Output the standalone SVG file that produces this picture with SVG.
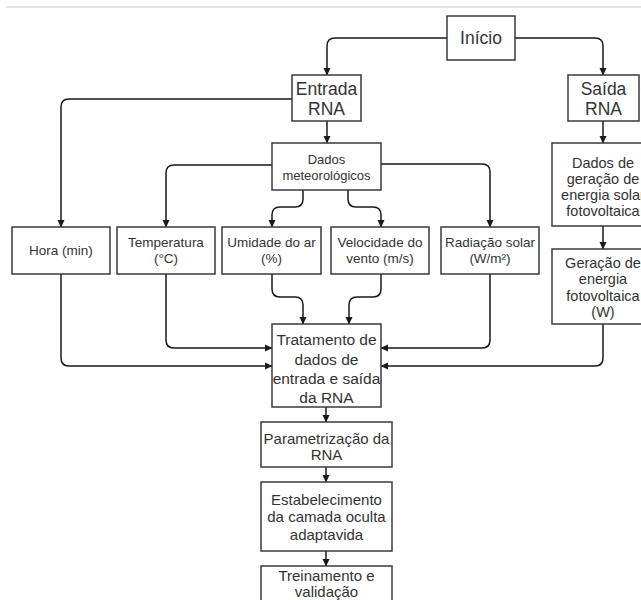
<svg xmlns="http://www.w3.org/2000/svg" width="641" height="600" viewBox="0 0 641 600">
<defs>
<marker id="ah" markerWidth="8" markerHeight="8" refX="7" refY="4" orient="auto" markerUnits="userSpaceOnUse">
<path d="M0,0.5 L7.5,4 L0,7.5 Z" fill="#1a1a1a"/>
</marker>
<style>
.box{fill:#fff;stroke:#3a3a3a;stroke-width:1.5}
.t{font-family:"Liberation Sans",Arial,sans-serif;fill:#333;text-anchor:middle}
.s13{font-size:13.5px}
.s14{font-size:14.5px}
.s15{font-size:15px}
.s17{font-size:17.5px}
.c{fill:none;stroke:#1a1a1a;stroke-width:1.5;marker-end:url(#ah)}
</style>
</defs>
<rect width="641" height="600" fill="#fff"/>
<line x1="6" y1="7" x2="641" y2="7" stroke="#dcdcdc" stroke-width="1.5"/>
<g id="connectors">
<path class="c" d="M447,38 H335 Q327,38 327,46 V75"/>
<path class="c" d="M515,38 H595 Q603,38 603,46 V75"/>
<path class="c" d="M292,99 H69 Q61,99 61,107 V227"/>
<path class="c" d="M327,121 V143"/>
<path class="c" d="M603,121 V143"/>
<path class="c" d="M272,165 H174 Q166,165 166,173 V227"/>
<path class="c" d="M303,190 V199 Q303,207 295,207 H280 Q272,207 272,215 V227"/>
<path class="c" d="M348,190 V199 Q348,207 356,207 H373 Q381,207 381,215 V227"/>
<path class="c" d="M381,164 H482 Q490,164 490,172 V227"/>
<path class="c" d="M603,226 V249"/>
<path class="c" d="M61,274 V358 Q61,366 69,366 H272"/>
<path class="c" d="M166,274 V340 Q166,348 174,348 H272"/>
<path class="c" d="M272,274 V289 Q272,297 280,297 H295 Q303,297 303,305 V324"/>
<path class="c" d="M381,274 V289 Q381,297 373,297 H357 Q349,297 349,305 V324"/>
<path class="c" d="M490,274 V340 Q490,348 482,348 H381"/>
<path class="c" d="M603,324 V358 Q603,366 595,366 H381"/>
<path class="c" d="M326,407 V422"/>
<path class="c" d="M326,467 V482"/>
<path class="c" d="M326,551 V566"/>
</g>
<g id="inicio"><rect class="box" x="447" y="16" width="68" height="44"/><text class="t s17" x="481" y="44">Início</text></g>
<g id="entrada"><rect class="box" x="292" y="75" width="69" height="46"/><text class="t s17" x="326.5" y="94.5">Entrada</text><text class="t s17" x="326.5" y="114.5">RNA</text></g>
<g id="saida"><rect class="box" x="568" y="75" width="71" height="46"/><text class="t s17" x="603.5" y="94.5">Saída</text><text class="t s17" x="603.5" y="114.5">RNA</text></g>
<g id="dados-met"><rect class="box" x="272" y="143" width="109" height="47"/><text class="t" style="font-size:13px" x="326.5" y="164">Dados</text><text class="t" style="font-size:13px" x="326.5" y="180">meteorológicos</text></g>
<g id="dados-geracao"><rect class="box" x="552" y="143" width="102" height="83"/><text class="t s14" x="603" y="168">Dados de</text><text class="t s14" x="603" y="184">geração de</text><text class="t s14" x="603" y="200">energia solar</text><text class="t s14" x="603" y="215.5">fotovoltaica</text></g>
<g id="hora"><rect class="box" x="12" y="227" width="98" height="47"/><text class="t s13" x="61" y="255">Hora (min)</text></g>
<g id="temperatura"><rect class="box" x="117" y="227" width="98" height="47"/><text class="t s13" x="166" y="246.5">Temperatura</text><text class="t s13" x="166" y="262.5">(°C)</text></g>
<g id="umidade"><rect class="box" x="222" y="227" width="99" height="47"/><text class="t s13" x="271.5" y="246.5">Umidade do ar</text><text class="t s13" x="271.5" y="262.5">(%)</text></g>
<g id="velocidade"><rect class="box" x="331" y="227" width="98" height="47"/><text class="t s13" x="380" y="246.5">Velocidade do</text><text class="t s13" x="380" y="262.5">vento (m/s)</text></g>
<g id="radiacao"><rect class="box" x="441" y="227" width="98" height="47"/><text class="t s13" x="490" y="246.5">Radiação solar</text><text class="t s13" x="490" y="262.5">(W/m²)</text></g>
<g id="geracao"><rect class="box" x="552" y="249" width="102" height="75"/><text class="t s14" x="603" y="268">Geração de</text><text class="t s14" x="603" y="284">energia</text><text class="t s14" x="603" y="300.5">fotovoltaica</text><text class="t s14" x="603" y="317">(W)</text></g>
<g id="tratamento"><rect class="box" x="272" y="324" width="109" height="83"/><text class="t" style="font-size:15.5px" x="326.5" y="345">Tratamento de</text><text class="t" style="font-size:15.5px" x="326.5" y="364.5">dados de</text><text class="t" style="font-size:15.5px" x="326.5" y="384">entrada e saída</text><text class="t" style="font-size:15.5px" x="326.5" y="403">da RNA</text></g>
<g id="parametrizacao"><rect class="box" x="261" y="422" width="131" height="45"/><text class="t s15" x="326.5" y="443.5">Parametrização da</text><text class="t s15" x="326.5" y="460">RNA</text></g>
<g id="estabelecimento"><rect class="box" x="261" y="482" width="131" height="69"/><text class="t s15" x="326.5" y="504.5">Estabelecimento</text><text class="t s15" x="326.5" y="522">da camada oculta</text><text class="t s15" x="326.5" y="539.5">adaptavida</text></g>
<g id="treinamento"><rect class="box" x="261" y="566" width="131" height="50"/><text class="t s15" x="326.5" y="580.5">Treinamento e</text><text class="t s15" x="326.5" y="597">validação</text></g>
</svg>
